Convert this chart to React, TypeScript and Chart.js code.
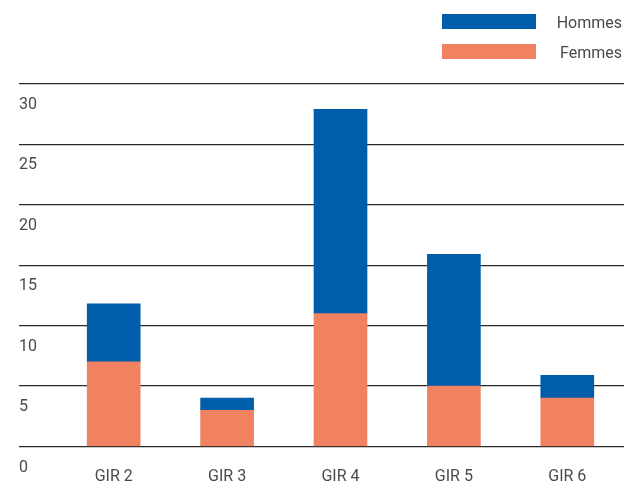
import React, { useEffect, useRef } from "react";
import { Chart, registerables } from "chart.js";

Chart.register(...registerables);

const categories = ["GIR 2", "GIR 3", "GIR 4", "GIR 5", "GIR 6"];
const femmes = [7, 3, 11, 5, 4];
const hommes = [4.8, 1, 16.9, 10.9, 1.9];
const yTicks = [0, 5, 10, 15, 20, 25, 30];

const BLUE = "#005DA9";
const ORANGE = "#F08262";
const TEXT = "#4a4a4a";
const FONT = "Roboto, 'Open Sans', sans-serif";

const legendPlugin = {
  id: "customLegend",
  afterDraw(chart: any) {
    const ctx = chart.ctx;
    const items = [...chart.data.datasets].reverse();
    ctx.save();
    items.forEach((ds: any, i: number) => {
      const y = 14 + i * 30;
      ctx.fillStyle = ds.backgroundColor;
      ctx.fillRect(442, y, 94, 15);
      ctx.fillStyle = TEXT;
      ctx.font = `16px ${FONT}`;
      ctx.textAlign = "right";
      ctx.textBaseline = "middle";
      ctx.fillText(ds.label, 622, y + 9.5);
    });
    ctx.restore();
  },
};

export default function App() {
  const ref = useRef<HTMLCanvasElement | null>(null);
  useEffect(() => {
    if (!ref.current) return;
    const chart = new Chart(ref.current, {
      type: "bar",
      data: {
        labels: categories,
        datasets: [
          { label: "Femmes", data: femmes, backgroundColor: ORANGE, barThickness: 53 },
          { label: "Hommes", data: hommes, backgroundColor: BLUE, barThickness: 53 },
        ],
      },
      options: {
        animation: false,
        responsive: false,
        maintainAspectRatio: false,
        layout: { padding: { left: 19, top: 84, right: 0, bottom: 0 } },
        plugins: { legend: { display: false }, tooltip: { enabled: false } },
        scales: {
          x: {
            stacked: true,
            grid: { display: false },
            border: { display: false },
            ticks: { color: TEXT, font: { family: FONT, size: 16 }, padding: 13 },
            afterFit: (s: any) => { s.height = 40.5; },
          },
          y: {
            stacked: true,
            min: 0,
            max: 30,
            afterBuildTicks: (s: any) => { s.ticks = yTicks.map((v) => ({ value: v })); },
            grid: { color: "#2a2a2a", lineWidth: 1.2, tickLength: 38, drawTicks: true },
            border: { display: false },
            ticks: {
              color: TEXT,
              font: { family: FONT, size: 16 },
              crossAlign: "far",
              labelOffset: 21,
              padding: 0,
            },
            afterFit: (s: any) => { s.width = 38; },
          },
        },
      },
      plugins: [legendPlugin],
    } as any);
    return () => chart.destroy();
  }, []);
  return (
    <div style={{ position: "fixed", left: 0, top: 0, width: 624, height: 487, background: "#fff" }}>
      <canvas ref={ref} width={624} height={487} style={{ display: "block" }} />
    </div>
  );
}
